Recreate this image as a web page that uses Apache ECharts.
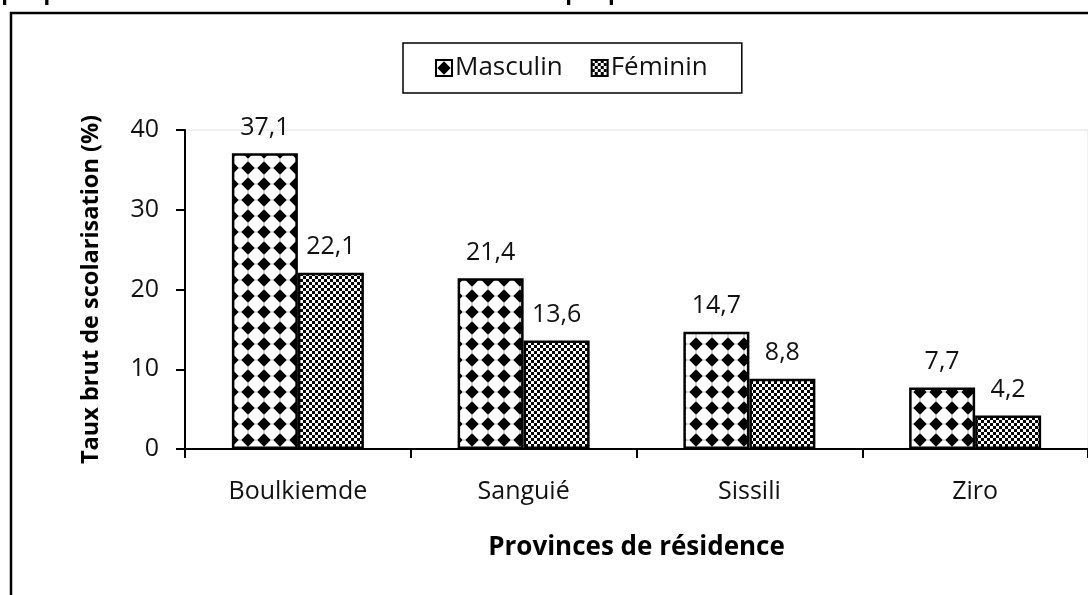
<!DOCTYPE html>
<html>
<head>
<meta charset="utf-8">
<style>
html,body{margin:0;padding:0;background:#fff;}
#chart{width:1088px;height:595px;}
</style>
<script src="https://cdn.jsdelivr.net/npm/echarts@6/dist/echarts.min.js"></script>
</head>
<body>
<div id="chart"></div>
<script>
const categories = ['Boulkiemde', 'Sanguié', 'Sissili', 'Ziro'];
const masculin = [37.1, 21.4, 14.7, 7.7];
const feminin = [22.1, 13.6, 8.8, 4.2];
const yTicks = [0, 10, 20, 30, 40];
const seriesNames = ['Masculin', 'Féminin'];
const titleText = 'Graphique 4 : Taux brut de scolarisation au secondaire par province selon le sexe';
const yName = 'Taux brut de scolarisation (%)';
const xName = 'Provinces de résidence';

function diamondPattern() {
  const c = document.createElement('canvas');
  c.width = 16; c.height = 16;
  const g = c.getContext('2d');
  g.fillStyle = '#fff'; g.fillRect(0, 0, 16, 16);
  g.fillStyle = '#000';
  g.beginPath();
  g.moveTo(8, 1.3); g.lineTo(14.7, 8); g.lineTo(8, 14.7); g.lineTo(1.3, 8); g.closePath();
  g.fill();
  g.fillStyle = '#bbb';
  g.fillRect(7.5, 0, 1, 1.5); g.fillRect(7.5, 14.5, 1, 1.5);
  g.fillRect(0, 7.5, 1.5, 1); g.fillRect(14.5, 7.5, 1.5, 1);
  return c;
}
function checkPattern() {
  const c = document.createElement('canvas');
  c.width = 6; c.height = 6;
  const g = c.getContext('2d');
  g.fillStyle = '#000'; g.fillRect(0, 0, 6, 6);
  g.fillStyle = '#fff';
  g.fillRect(0, 0, 3, 3); g.fillRect(3, 3, 3, 3);
  return c;
}

const chart = echarts.init(document.getElementById('chart'), null, {renderer: 'canvas'});
const FONT = 'Open Sans';
const fmt = p => String(p.value).replace('.', ',');

const option = {
  backgroundColor: '#fff',
  animation: false,
  textStyle: {fontFamily: FONT},
  graphic: [
    {type: 'rect', z: 100, shape: {x: 11, y: 13, width: 1200, height: 700},
     style: {fill: 'none', stroke: '#000', lineWidth: 2.5}},
    {type: 'text', z: 100, x: -38, y: -17,
     style: {text: titleText, font: 'bold 22px "Open Sans"', fill: '#000'}}
  ],
  legend: {
    left: 403, top: 43,
    padding: [12, 34, 12, 32],
    borderColor: '#000', borderWidth: 1.5,
    icon: 'rect',
    itemWidth: 16, itemHeight: 16, itemGap: 28,
    data: seriesNames,
    textStyle: {fontSize: 26, color: '#111', fontFamily: FONT, padding: [0, 0, 0, -2]},
    itemStyle: {borderColor: '#000', borderWidth: 2}
  },
  grid: {left: 185, right: -1, top: 130, bottom: 146, show: true, borderColor: '#e2e2e2', borderWidth: 1},
  xAxis: {
    type: 'category', data: categories,
    axisLine: {lineStyle: {color: '#000', width: 2}},
    axisTick: {show: true, length: 9, alignWithLabel: false, lineStyle: {color: '#000', width: 2}},
    axisLabel: {fontSize: 25, color: '#111', margin: 30, fontFamily: FONT},
    name: xName, nameLocation: 'middle', nameGap: 86,
    nameTextStyle: {fontSize: 26, fontWeight: 'bold', color: '#000', fontFamily: FONT}
  },
  yAxis: {
    type: 'value', min: 0, max: 40, interval: 10,
    axisLine: {show: true, lineStyle: {color: '#000', width: 2}},
    axisTick: {show: true, length: 9, lineStyle: {color: '#000', width: 2}},
    splitLine: {show: false},
    axisLabel: {fontSize: 25, color: '#111', margin: 26, fontFamily: FONT,
      formatter: v => yTicks.includes(v) ? String(v) : ''},
    name: yName, nameLocation: 'middle', nameGap: 82, nameRotate: 90,
    nameTextStyle: {fontSize: 23.5, fontWeight: 'bold', color: '#000', fontFamily: FONT}
  },
  series: [
    {
      name: seriesNames[0], type: 'bar', data: masculin,
      barWidth: 66, barGap: '0%',
      itemStyle: {color: {image: diamondPattern(), repeat: 'repeat'}, borderColor: '#000', borderWidth: 2.5},
      label: {show: true, position: 'top', distance: 13, fontSize: 25, color: '#111', fontFamily: FONT, formatter: fmt}
    },
    {
      name: seriesNames[1], type: 'bar', data: feminin,
      barWidth: 66, barGap: '0%',
      itemStyle: {color: {image: checkPattern(), repeat: 'repeat'}, borderColor: '#000', borderWidth: 2.5},
      label: {show: true, position: 'top', distance: 13, fontSize: 25, color: '#111', fontFamily: FONT, formatter: fmt}
    }
  ]
};
chart.setOption(option);
</script>
</body>
</html>
